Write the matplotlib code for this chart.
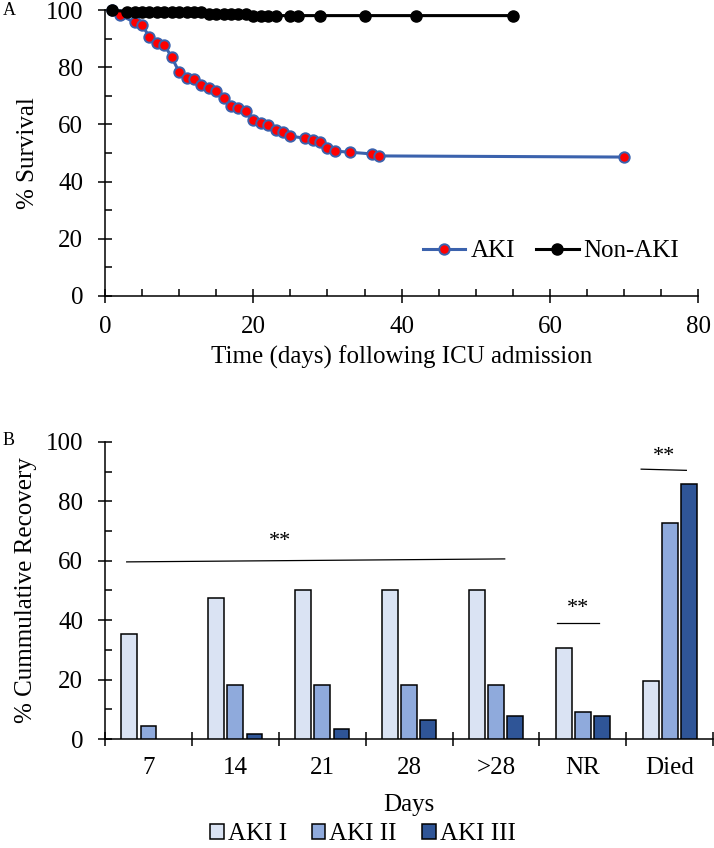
import numpy as np
import matplotlib.pyplot as plt
from matplotlib.patches import Patch
from matplotlib.ticker import MultipleLocator, FixedLocator

plt.rcParams['font.family'] = ['Liberation Serif', 'DejaVu Serif']

# --- panel A: survival curves ---
aki_days = [1, 2, 4, 5, 6, 7, 8, 9, 10, 11, 12, 13, 14, 15, 16, 17, 18, 19, 20,
            21, 22, 23, 24, 25, 27, 28, 29, 30, 31, 33, 36, 37, 70]
aki_surv = [100, 98.3, 95.8, 94.8, 90.6, 88.5, 87.8, 83.6, 78.3, 76.4, 75.9, 73.8,
            72.7, 71.7, 69.2, 66.4, 65.7, 64.7, 61.5, 60.5, 59.8, 58.0, 57.3, 55.9,
            55.2, 54.5, 53.8, 51.7, 50.7, 50.3, 49.7, 49.0, 48.6]
non_days = [1, 3, 4, 5, 6, 7, 8, 9, 10, 11, 12, 13, 14, 15, 16, 17, 18, 19, 20,
            21, 22, 23, 25, 26, 29, 35, 42, 55]
non_surv = [100] + [99.5] * 11 + [98.8] * 6 + [98.1] * 10

# --- panel B: cumulative recovery ---
cats = ['7', '14', '21', '28', '>28', 'NR', 'Died']
aki1 = [35.3, 47.6, 50.1, 50.1, 50.1, 30.5, 19.5]
aki2 = [4.5, 18.2, 18.2, 18.2, 18.2, 9.2, 72.6]
aki3 = [0, 1.7, 3.3, 6.4, 7.7, 7.7, 85.8]
stage_names = ['AKI I', 'AKI II', 'AKI III']
stage_cols = ['#DAE3F3', '#8FAADC', '#2F5597']
# significance bars: (x0, x1, y0, y1, star_x, star_y)
sig = [(-0.25, 4.10, 59.6, 60.6, 1.51, 66.3),
       (4.70, 5.18, 39.1, 39.1, 4.94, 44.0),
       (5.67, 6.19, 90.8, 90.4, 5.93, 95.0)]

FS = 18
fig = plt.figure(figsize=(7.14, 8.48), dpi=100)

def style_axis(ax):
    for s in ['top', 'right']:
        ax.spines[s].set_visible(False)
    for s in ['left', 'bottom']:
        ax.spines[s].set_linewidth(1.1)
    ax.tick_params(which='major', direction='inout', length=9.5, width=1.1,
                   labelsize=FS)
    ax.tick_params(which='minor', direction='in', length=4.8, width=1.1)
    ax.tick_params(axis='y', which='major', pad=11)

# top panel
ax = fig.add_axes([0.147, 0.651, 0.831, 0.337])
ax.plot(aki_days, aki_surv, '-o', color='#3B62AD', lw=2.2, ms=7.5,
        mfc='#FF0000', mec='#3B62AD', mew=1.4, label='AKI', zorder=3)
ax.plot(non_days, non_surv, '-o', color='black', lw=2.2, ms=8,
        mfc='black', mec='black', label='Non-AKI', zorder=4)
ax.set_xlim(0, 80)
ax.set_ylim(0, 100)
ax.xaxis.set_major_locator(MultipleLocator(20))
ax.xaxis.set_minor_locator(MultipleLocator(5))
ax.yaxis.set_major_locator(MultipleLocator(20))
ax.yaxis.set_minor_locator(MultipleLocator(10))
style_axis(ax)
ax.tick_params(axis='x', which='major', pad=10)
ax.set_xlabel('Time (days) following ICU admission', fontsize=FS)
ax.set_ylabel('% Survival', fontsize=FS)
ax.xaxis.set_label_coords(0.5, -0.175)
ax.yaxis.set_label_coords(-0.111, 0.5)
for sp in ax.spines.values():
    sp.set_clip_on(False)
for ln in ax.lines:
    ln.set_clip_on(False)
ax.legend(loc='center right', bbox_to_anchor=(0.968, 0.157), ncol=2,
          frameon=False, fontsize=FS, handlelength=1.7, handletextpad=0.2,
          columnspacing=0.85, borderpad=0, borderaxespad=0)
fig.text(0.004, 0.988, 'A', fontsize=13, va='center', ha='left')

# bottom panel
bx = fig.add_axes([0.147, 0.1285, 0.852, 0.3505])
x = np.arange(len(cats))
for i, (vals, col, nm) in enumerate(zip([aki1, aki2, aki3], stage_cols, stage_names)):
    bars = bx.bar(x + (i - 1) * 0.22, vals, width=0.18, color=col, edgecolor='black',
                  linewidth=1.1, label=nm, zorder=3)
    for b, v in zip(bars, vals):
        if v == 0:
            b.set_visible(False)
for x0, x1, y0, y1, sx, sy in sig:
    bx.plot([x0, x1], [y0, y1], color='black', lw=0.9)
    bx.text(sx, sy, '**', ha='center', va='center', fontsize=16)
bx.set_xlim(-0.5, len(cats) - 0.5)
bx.set_ylim(0, 100)
bx.yaxis.set_major_locator(MultipleLocator(20))
bx.yaxis.set_minor_locator(MultipleLocator(10))
bx.xaxis.set_major_locator(FixedLocator(np.arange(len(cats) + 1) - 0.5))
bx.xaxis.set_minor_locator(FixedLocator(x))
bx.set_xticklabels([], minor=False)
bx.set_xticklabels(cats, minor=True)
style_axis(bx)
bx.tick_params(axis='x', which='minor', length=0, labelsize=FS, pad=13)
bx.set_xlabel('Days', fontsize=FS)
bx.set_ylabel('% Cummulative Recovery', fontsize=FS)
bx.xaxis.set_label_coords(0.5, -0.185)
bx.yaxis.set_label_coords(-0.112, 0.5)
handles = [Patch(facecolor=c, edgecolor='black', linewidth=1.1) for c in stage_cols]
fig.legend(handles, stage_names, loc='lower center', bbox_to_anchor=(0.508, 0.003),
           ncol=3, frameon=False, fontsize=FS, handlelength=0.55, handleheight=0.55,
           handletextpad=0.16, columnspacing=1.0, borderpad=0, borderaxespad=0)
fig.text(0.004, 0.48, 'B', fontsize=13, va='center', ha='left')

fig.savefig('out.png', dpi=100)
